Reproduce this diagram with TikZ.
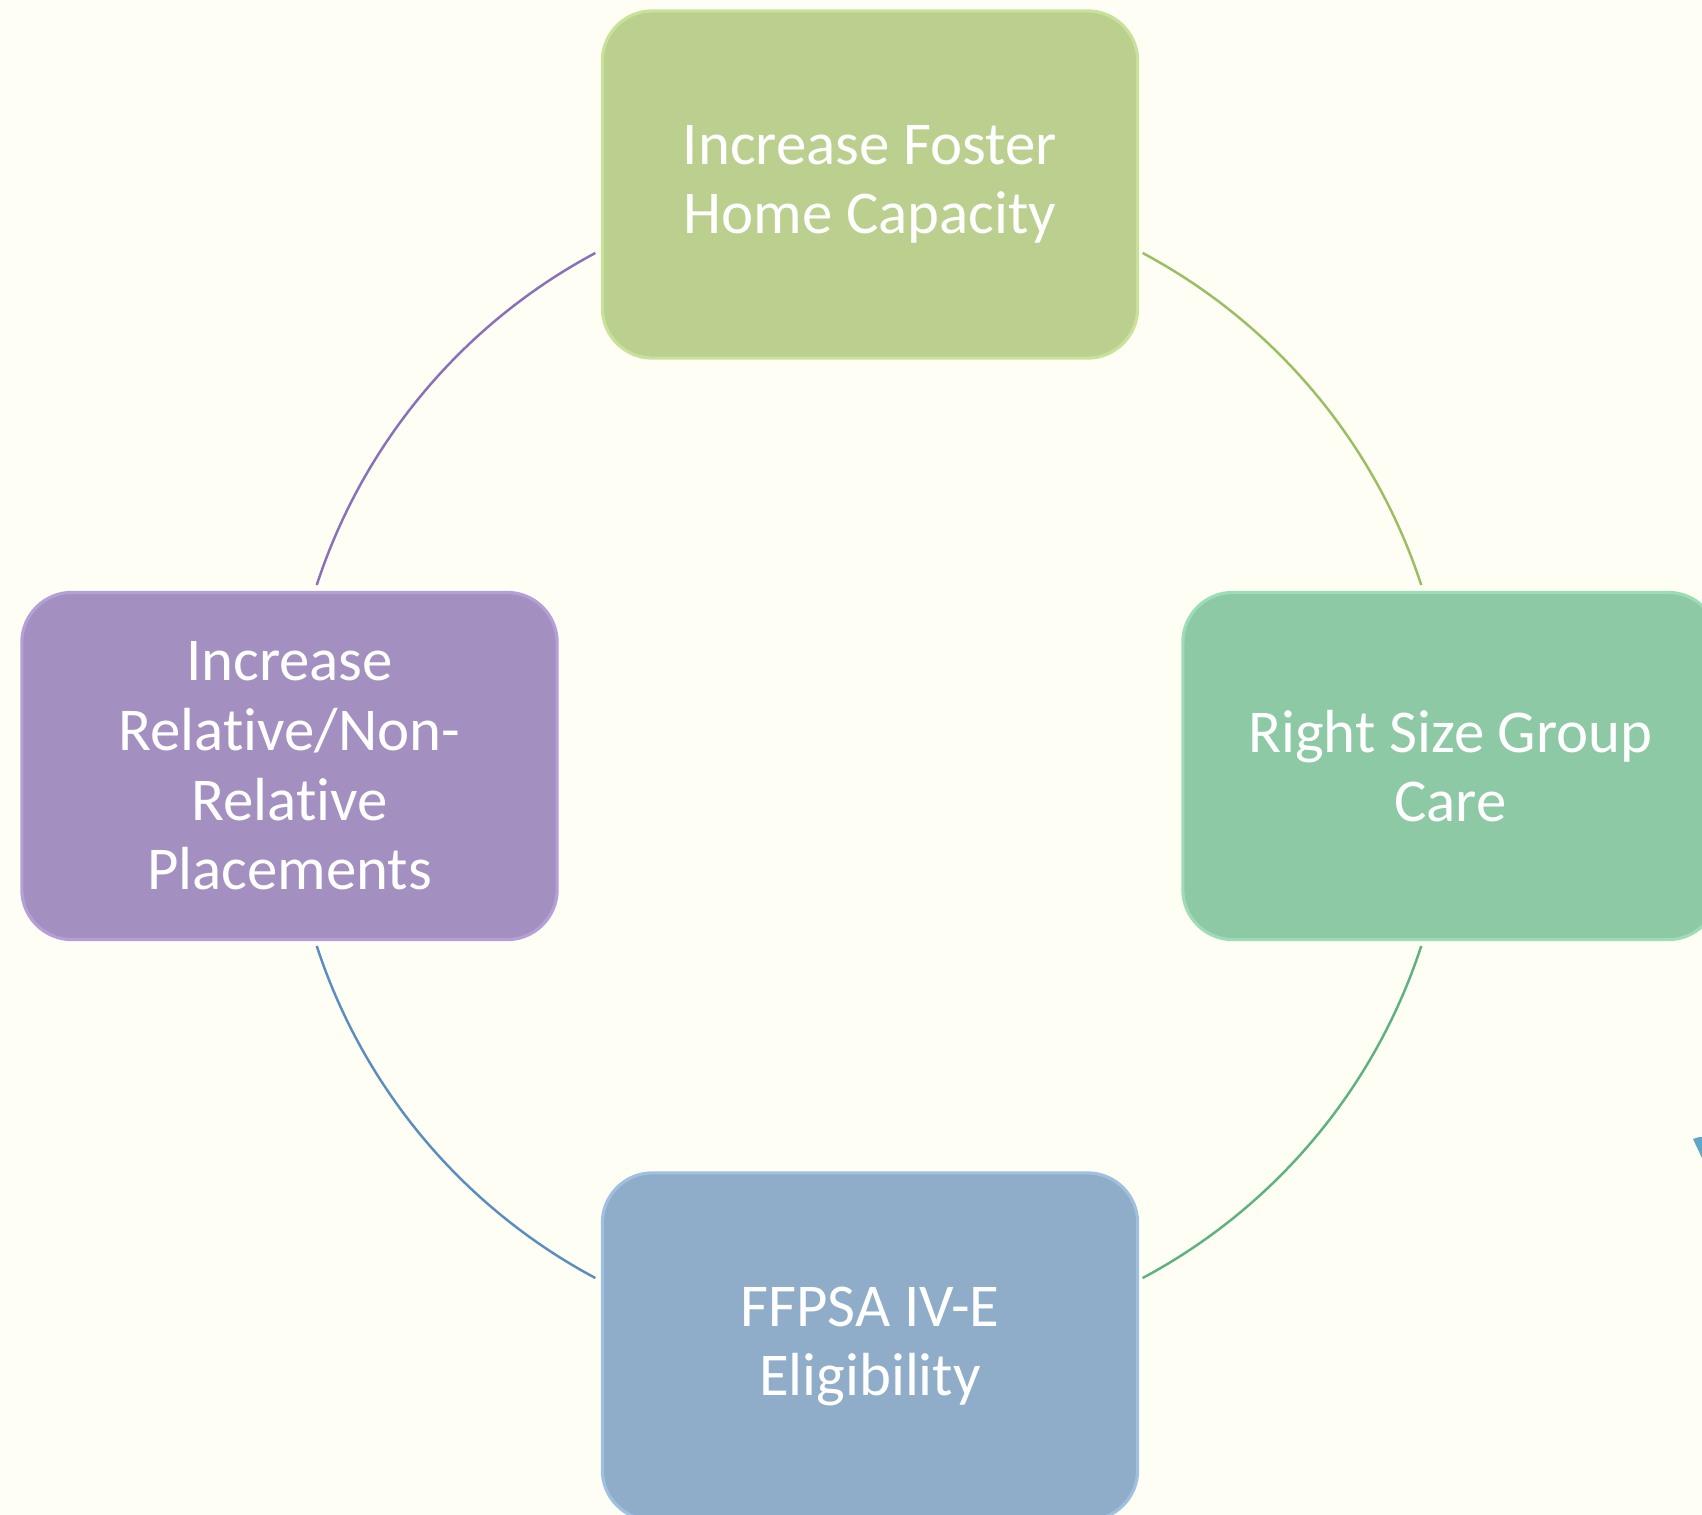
\documentclass[tikz,border=0pt]{standalone}
\usepackage{fontspec}
\setmainfont{Carlito}[Ligatures={NoCommon}]
\usepackage{xcolor}
\usepackage{tikz}
\usetikzlibrary{arrows.meta}

\definecolor{bgcream}{HTML}{FEFEF5}
\definecolor{fosterfill}{HTML}{BBCF8E}
\definecolor{fosteredge}{HTML}{C9E29A}
\definecolor{groupfill}{HTML}{8DC9A5}
\definecolor{groupedge}{HTML}{9CDDB6}
\definecolor{ffpsafill}{HTML}{8FADC9}
\definecolor{ffpsaedge}{HTML}{9FC0DE}
\definecolor{relfill}{HTML}{A390C0}
\definecolor{reledge}{HTML}{B4A0D6}
\definecolor{arcpurple}{HTML}{8A70B8}
\definecolor{arcolive}{HTML}{9CBE62}
\definecolor{arcgreen}{HTML}{5EB27F}
\definecolor{arcblue}{HTML}{5B8DC0}
\definecolor{markblue}{HTML}{5FA7C7}

\tikzset{
  goalbox/.style={rectangle, rounded corners=0.5cm, minimum width=5.35cm,
    minimum height=3.47cm, line width=0.9pt, text=white, align=center,
    font=\fontsize{17.3pt}{19.8pt}\selectfont},
  ring/.style={line width=0.7pt}
}

\begin{document}
\begin{tikzpicture}[x=0.01cm, y=-0.01cm]
    \useasboundingbox (0,0) rectangle (1702,1515);
    \clip (0,0) rectangle (1702,1515);
    \fill[bgcream] (0,0) rectangle (1702,1515);

    \coordinate (c) at (869,765.5);

    \draw[ring, arcpurple] (c) ++(-118.1:581) arc[start angle=-118.1, end angle=-161.9, radius=581];
    \draw[ring, arcolive] (c) ++(-61.9:581) arc[start angle=-61.9, end angle=-18.1, radius=581];
    \draw[ring, arcgreen] (c) ++(18.1:581) arc[start angle=18.1, end angle=61.9, radius=581];
    \draw[ring, arcblue] (c) ++(161.9:581) arc[start angle=161.9, end angle=118.1, radius=581];

    \node[goalbox, fill=fosterfill, draw=fosteredge] (foster) at (870,184.5) {Increase Foster\\Home Capacity};
    \node[goalbox, fill=groupfill, draw=groupedge] (group) at (1450.5,766) {Right Size Group\\Care};
    \node[goalbox, fill=ffpsafill, draw=ffpsaedge] (ffpsa) at (870,1346.5) {FFPSA IV-E\\Eligibility};
    \node[goalbox, fill=relfill, draw=reledge] (relative) at (289.5,766) {Increase\\Relative/Non-\\Relative\\Placements};

    \fill[markblue] (1693,1139) -- (1699,1137) -- (1702,1137) -- (1702,1158) -- cycle;
\end{tikzpicture}
\end{document}
